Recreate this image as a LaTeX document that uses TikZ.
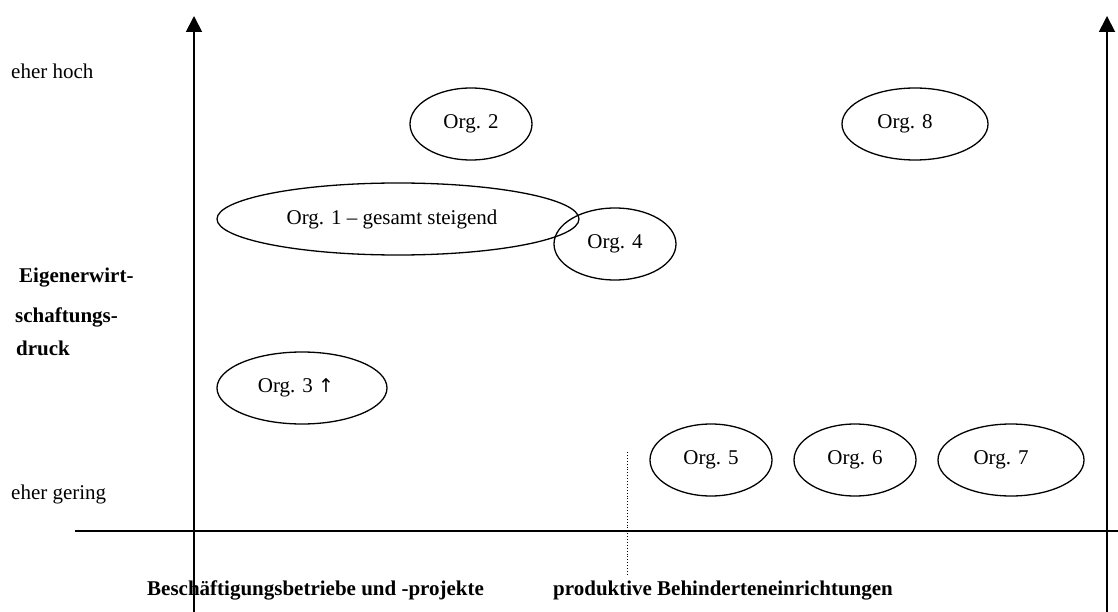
\documentclass[tikz,border=0pt]{standalone}
\usepackage{fontspec}
\setmainfont{Liberation Serif}
\newfontfamily\arrowfont{DejaVu Sans}
\usepackage{tikz}
\usetikzlibrary{
  arrows.meta,
  positioning,
  shapes.geometric
}
\newcommand{\lblfont}{\fontsize{21}{25}\selectfont}
\newcommand{\leftpad}[2]{#2\kern#1}
\tikzset{
  orgnode/.style={ellipse,draw=black,line width=1.3pt,inner sep=0pt,minimum height=72pt,font=\lblfont},
  axisline/.style={line width=1.8pt,draw=black},
  axisarrow/.style={-{Triangle[length=16pt,width=16pt]},line width=1.8pt,draw=black},
  splitline/.style={dotted,line width=0.9pt,draw=black},
  levellabel/.style={anchor=base west,inner sep=0pt,font=\lblfont},
  titlelabel/.style={anchor=base west,inner sep=0pt,font=\lblfont\bfseries}
}

\begin{document}
\begin{tikzpicture}[x=1pt,y=-1pt]
\useasboundingbox (0,0) rectangle (1118,612);
% axes
\coordinate (lbot) at (194,612);
\coordinate (ltop) at (194,16);
\coordinate (rbot) at (1107,612);
\coordinate (rtop) at (1107,16);
\coordinate (hleft) at (75,531);
\coordinate (hright) at (1118,531);
\coordinate (stop) at (627,452);
\coordinate (sbot) at (627,575);
\draw[axisarrow] (lbot) -- (ltop);
\draw[axisarrow] (rbot) -- (rtop);
\draw[axisline] (hleft) -- (hright);
\draw[splitline] (stop) -- (sbot);
% vertical axis labels
\node[levellabel] (hoch) at (11,79) {eher hoch};
\node[levellabel] (gering) at (11,499) {eher gering};
\node[titlelabel] (ew1) at (19,282) {Eigenerwirt-};
\node[titlelabel] (ew2) at (15,322) {schaftungs-};
\node[titlelabel] (ew3) at (16,355) {druck};
% horizontal axis labels
\node[titlelabel] (beschaeft) at (147,595) {Beschäftigungsbetriebe und -projekte};
\node[titlelabel] (produktiv) at (553,595) {produktive Behinderteneinrichtungen};
% organisations
\node[orgnode,minimum width=362pt] (org1) at (398,219) {\leftpad{12pt}{Org. 1 – gesamt steigend}};
\node[orgnode,minimum width=122pt] (org2) at (471,124) {Org. 2};
\node[orgnode,minimum width=170pt] (org3) at (302,388) {\leftpad{12pt}{Org. 3 {\arrowfont\fontsize{19}{22}\selectfont ↑}}};
\node[orgnode,minimum width=122pt] (org4) at (615,244) {Org. 4};
\node[orgnode,minimum width=122pt] (org5) at (711,460) {Org. 5};
\node[orgnode,minimum width=122pt] (org6) at (855,460) {Org. 6};
\node[orgnode,minimum width=146pt] (org7) at (1011,460) {\leftpad{20pt}{Org. 7}};
\node[orgnode,minimum width=146pt] (org8) at (915,124) {\leftpad{20pt}{Org. 8}};
\end{tikzpicture}
\end{document}
